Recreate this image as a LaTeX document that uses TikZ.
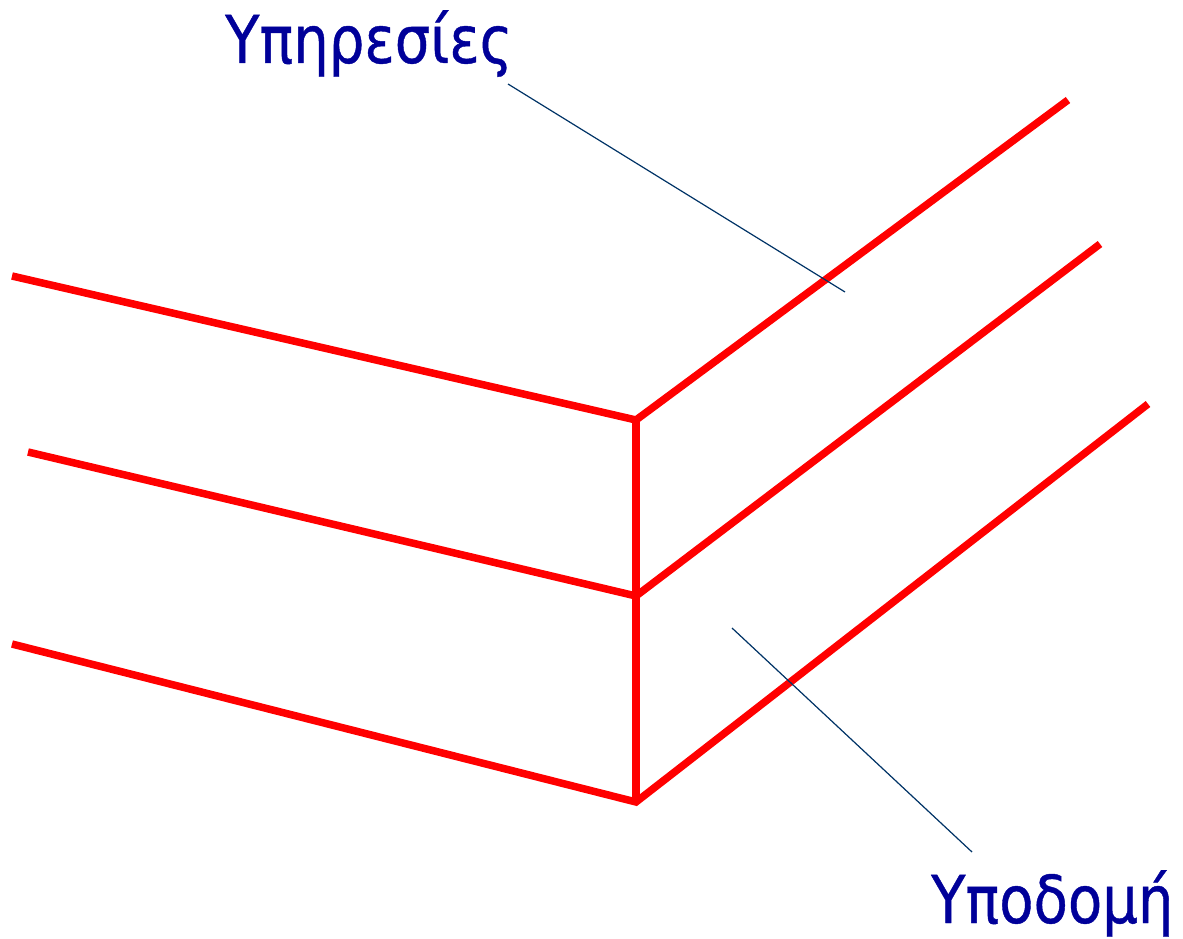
\documentclass[tikz,border=0pt]{standalone}
\usepackage{fontspec}
\setmainfont{DejaVu Sans}
\newfontfamily\tagfont[FakeStretch=0.85, FakeBold=0.6]{DejaVu Sans}
\usetikzlibrary{positioning}
\colorlet{layercol}{red}
\definecolor{labelcol}{RGB}{0,0,153}
\definecolor{leadercol}{RGB}{0,51,102}
\tikzset{
  layer/.style={line width=7.5pt, layercol, line join=miter},
  leader/.style={line width=1.2pt, leadercol},
  tag/.style={text=labelcol, font=\tagfont\fontsize{66}{66}\selectfont, inner sep=0pt}
}

\begin{document}
\begin{tikzpicture}[x=1pt, y=-1pt]

  % Page frame.
  \useasboundingbox (0,0) rectangle (1183,939);

  % Corner points of the three layers.
  \coordinate (top)  at (636,420);
  \coordinate (mid)  at (636,596);
  \coordinate (bot)  at (636,802);

  % Layers (left face, right face).
  \draw[layer] (12,276) -- (top) -- (1068,100);
  \draw[layer] (28,452) -- (mid) -- (1100,244);
  \draw[layer] (12,644) -- (bot) -- (1148,404);

  % Front edge.
  \draw[layer] (top) -- (bot);

  % Labels.
  \node[tag, anchor=base west] (serv) at (225,63) {Υπηρεσίες};
  \node[tag, anchor=base west] (infra) at (931,923) {Υποδομή};

  % Leader lines.
  \coordinate (servend)  at (845,292);
  \coordinate (infraend) at (732,628);
  \draw[leader] (508,84) -- (servend);
  \draw[leader] (972,852) -- (infraend);

\end{tikzpicture}
\end{document}
